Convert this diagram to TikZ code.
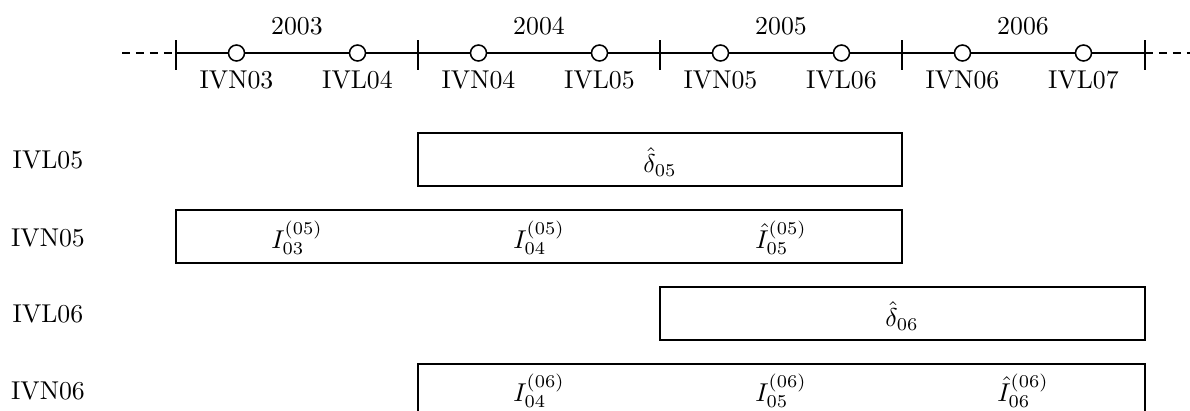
\documentclass[tikz,border=0pt]{standalone}
\begin{document}
\begin{tikzpicture}[x=0.388pt,y=-0.388pt,
  axis/.style={line width=0.8pt},
  tick/.style={line width=0.8pt},
  dashaxis/.style={line width=0.8pt,dash pattern=on 3.2pt off 2.2pt},
  evt/.style={circle,draw,line width=0.6pt,fill=white,minimum size=16*0.388pt,inner sep=0pt},
  box/.style={draw,line width=0.8pt}]
\useasboundingbox (0,0) rectangle (1190,410);
% ticks
\foreach \i/\x in {0/176,1/418,2/660,3/902,4/1145}{
  \coordinate (t\i) at (\x,53);
  \draw[tick] (\x,40) -- (\x,70);
}
\coordinate (dl) at (122,53);
\coordinate (dr) at (1200,53);
\draw[dashaxis] (dl) -- (t0);
\draw[axis] (t0) -- (t4);
\draw[dashaxis] (t4) -- (dr);
% years
\node (y03) at (297,26) {2003};
\node (y04) at (539,26) {2004};
\node (y05) at (781,26) {2005};
\node (y06) at (1023,26) {2006};
% events
\foreach \n/\x/\t in {e1/236.5/IVN03,e2/357.5/IVL04,e3/478.5/IVN04,e4/599.5/IVL05,e5/720.5/IVN05,e6/841.5/IVL06,e7/962.5/IVN06,e8/1083.5/IVL07}{
  \node[evt] (\n) at (\x,53) {};
  \node[anchor=north,inner sep=0pt] (\n l) at (\x,70) {\t};
}
% row labels
\node (r1) at (48,160) {IVL05};
\node (r2) at (48,238) {IVN05};
\node (r3) at (48,314) {IVL06};
\node (r4) at (48,391) {IVN06};
% boxes
\coordinate (b1a) at (418,133); \coordinate (b1b) at (902,186);
\coordinate (b2a) at (176,210); \coordinate (b2b) at (902,263);
\coordinate (b3a) at (660,287); \coordinate (b3b) at (1145,340);
\coordinate (b4a) at (418,364); \coordinate (b4b) at (1145,417);
\draw[box] (b1a) rectangle (b1b);
\draw[box] (b2a) rectangle (b2b);
\draw[box] (b3a) rectangle (b3b);
\draw[box] (b4a) rectangle (b4b);
\node (d05) at (660,162) {$\hat\delta_{05}$};
\node (i1) at (297,238) {$I_{03}^{(05)}$};
\node (i2) at (539,238) {$I_{04}^{(05)}$};
\node (i3) at (781,238) {$\hat I_{05}^{(05)}$};
\node (d06) at (902,316) {$\hat\delta_{06}$};
\node (j1) at (539,391) {$I_{04}^{(06)}$};
\node (j2) at (781,391) {$I_{05}^{(06)}$};
\node (j3) at (1023,391) {$\hat I_{06}^{(06)}$};
\end{tikzpicture}
\end{document}
